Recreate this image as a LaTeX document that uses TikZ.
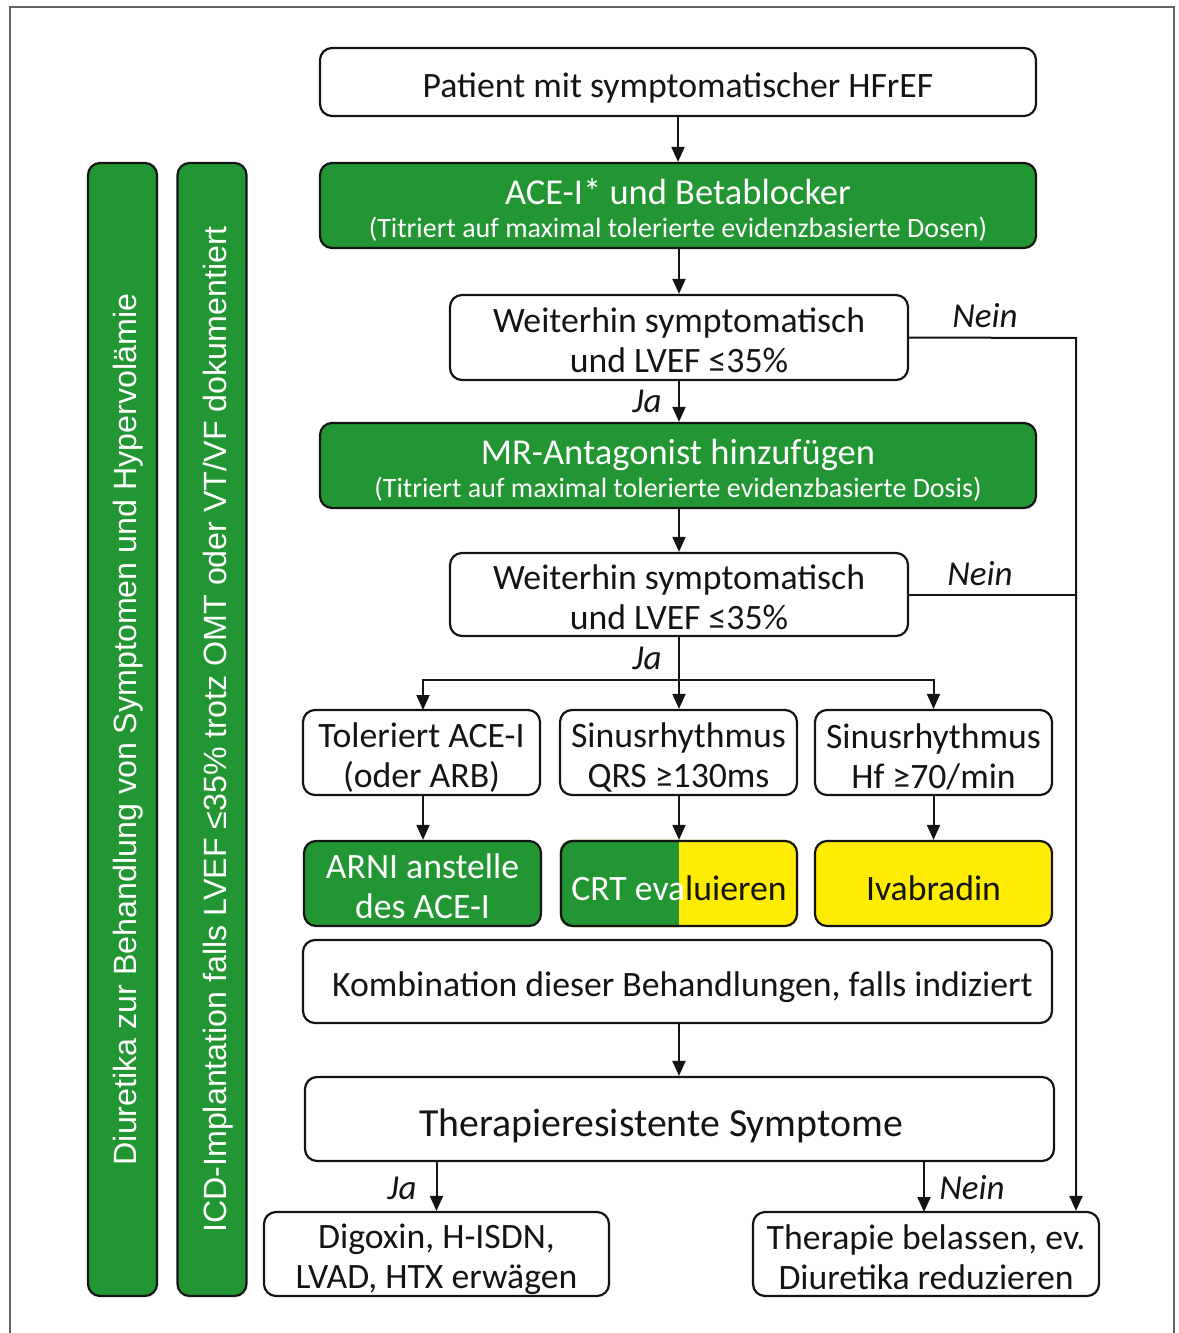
\documentclass[tikz,border=0pt]{standalone}
\usepackage{fontspec}
\setmainfont{Carlito}
\newfontfamily\barfont{Liberation Sans}
\usetikzlibrary{arrows.meta,calc,backgrounds}
\definecolor{gr}{RGB}{33,150,50}
\definecolor{ye}{RGB}{255,236,0}
\definecolor{fr}{RGB}{100,100,100}
\definecolor{ink}{RGB}{20,20,20}
\newlength\crtA
\newlength\crtB
\newcommand\dnr[1]{\rule{0pt}{\dimexpr 0.73em+#1pt\relax}}
\newcommand\mainsize{\fontsize{35.7}{40}\selectfont}
\newcommand\subsize{\fontsize{28}{31}\selectfont}
\tikzset{
  box/.style={draw=ink, line width=2.2pt, rounded corners=12pt, align=center, inner sep=0pt,
    font=\mainsize, text=ink},
  gbox/.style={box, fill=gr, text=white},
  conn/.style={draw=ink, line width=2pt, -{Triangle[length=15pt,width=13pt]}},
  plain/.style={draw=ink, line width=2pt},
  lab/.style={font=\fontsize{35}{40}\selectfont\itshape, inner sep=0pt, text=ink},
  barbox/.style={gbox, rotate=90, minimum width=1133pt, minimum height=69pt,
    font=\barfont\fontsize{32.2}{36}\selectfont},
}
\begin{document}
\begin{tikzpicture}[x=1pt,y=-1pt]
\useasboundingbox (0,0) rectangle (1178,1333);
\draw[fr, line width=1.5pt] (10,1333) -- (10,7) -- (1174,7) -- (1174,1333);

% side bars
\node[barbox] (bar1) at (122.5,729.5) {\dnr{11}Diuretika zur Behandlung von Symptomen und Hypervolämie};
\node[barbox] (bar2) at (212,729.5) {\dnr{13}ICD-Implantation falls LVEF ≤35\% trotz OMT oder VT/VF dokumentiert};

% main column
\node[box, minimum width=716pt, minimum height=68pt] (b1) at (678,82) {\dnr{10}Patient mit symptomatischer HFrEF};
\node[gbox, minimum width=716pt, minimum height=85pt] (b2) at (678,205.5)
  {\fontsize{36.5}{40}\selectfont\dnr{9}ACE-I* und Betablocker\\[-7pt]{\subsize (Titriert auf maximal tolerierte evidenzbasierte Dosen)}};
\node[box, minimum width=458pt, minimum height=85pt] (b3) at (679,337.5) {\dnr{5}Weiterhin symptomatisch\\und LVEF ≤35\%};
\node[gbox, minimum width=716pt, minimum height=85pt] (b4) at (678,465.5)
  {\fontsize{36.5}{40}\selectfont\dnr{9}MR-Antagonist hinzufügen\\[-7pt]{\subsize (Titriert auf maximal tolerierte evidenzbasierte Dosis)}};
\node[box, minimum width=458pt, minimum height=83pt] (b5) at (679,594.5) {\dnr{4}Weiterhin symptomatisch\\und LVEF ≤35\%};

\node[box, minimum width=237pt, minimum height=85pt] (b6) at (421.5,752.5) {\dnr{8}Toleriert ACE-I\\(oder ARB)};
\node[box, minimum width=237pt, minimum height=85pt] (b7) at (678.5,752.5) {\dnr{8}Sinusrhythmus\\QRS ≥130ms};
\node[box, minimum width=237pt, minimum height=85pt] (b8) at (933.5,752.5) {\dnr{8}Sinusrhythmus\\Hf ≥70/min};

\node[gbox, minimum width=237pt, minimum height=85pt] (b9) at (422.5,883.5) {\dnr{4}ARNI anstelle\\des ACE-I};
\node[box, minimum width=236pt, minimum height=85pt] (b10) at (679,883.5) {\dnr{8}\textcolor{white}{CRT eva}luieren};
\node[box, fill=ye, minimum width=237pt, minimum height=85pt] (b11) at (933.5,883.5) {\dnr{8}Ivabradin};

\settowidth{\crtA}{\mainsize CRT eva}
\settowidth{\crtB}{\mainsize CRT evaluieren}
\begin{scope}[on background layer]
  \fill[ye, rounded corners=12pt] (b10.south west) rectangle (b10.north east);
  \begin{scope}
    \clip[rounded corners=12pt] (b10.south west) rectangle (b10.north east);
    \fill[gr] ($(b10.south west)+(-2,2)$) rectangle ($(b10.north)+({\crtA-0.5*\crtB},-2)$);
  \end{scope}
\end{scope}

\node[box, minimum width=749pt, minimum height=83pt] (b12) at (677.5,981.5) {\hspace*{10pt}\dnr{10}Kombination dieser Behandlungen, falls indiziert};
\node[box, minimum width=749pt, minimum height=84pt, font=\fontsize{39.8}{44}\selectfont] (b13) at (679.5,1119) {\dnr{12}Therapieresistente Symptome\hspace*{37pt}};
\node[box, minimum width=345pt, minimum height=84pt] (b14) at (436.5,1254) {\dnr{10}Digoxin, H-ISDN,\\LVAD, HTX erwägen};
\node[box, minimum width=346pt, minimum height=84pt] (b15) at (926,1254) {\dnr{5}Therapie belassen, ev.\\Diuretika reduzieren};

% connectors
\draw[conn] (b1.south) -- (b2.north);
\draw[conn] (b2.south -| b3.north) -- (b3.north);
\draw[conn] (b3.south) -- (b3.south |- b4.north);
\draw[conn] (b4.south -| b5.north) -- (b5.north);
\coordinate (br) at (679,680);
\coordinate (c6) at (423,795);
\coordinate (c6t) at (423,710);
\draw[plain] (b5.south) -- (br);
\draw[conn] (br) -| (c6t);
\draw[conn] (br) -- (br |- b7.north);
\draw[conn] (br) -| (b8.north);
\draw[conn] (c6) -- (c6 |- b9.north);
\draw[conn] (b7.south -| b10.north) -- (b10.north);
\draw[conn] (b8.south) -- (b11.north);
\draw[conn] (b12.south -| b10.north) -- (b10.north |- b13.north);
\draw[conn] (b14.north |- b13.south) -- (b14.north);
\coordinate (nj) at (924,1212);
\draw[conn] (nj |- b13.south) -- (nj);
\coordinate (nr) at (1076,338);
\draw[conn] (b3.east) -- (nr) -- (nr |- b15.north);
\draw[plain] (b5.east) -- (b5.east -| nr);

% labels
\node[lab] (ja1) at (647,401) {Ja};
\node[lab] (ja2) at (647,658) {Ja};
\node[lab] (ja3) at (402,1188) {Ja};
\node[lab] (nein1) at (985,316) {Nein};
\node[lab] (nein2) at (980,574) {Nein};
\node[lab] (nein3) at (972,1188) {Nein};
\end{tikzpicture}
\end{document}
